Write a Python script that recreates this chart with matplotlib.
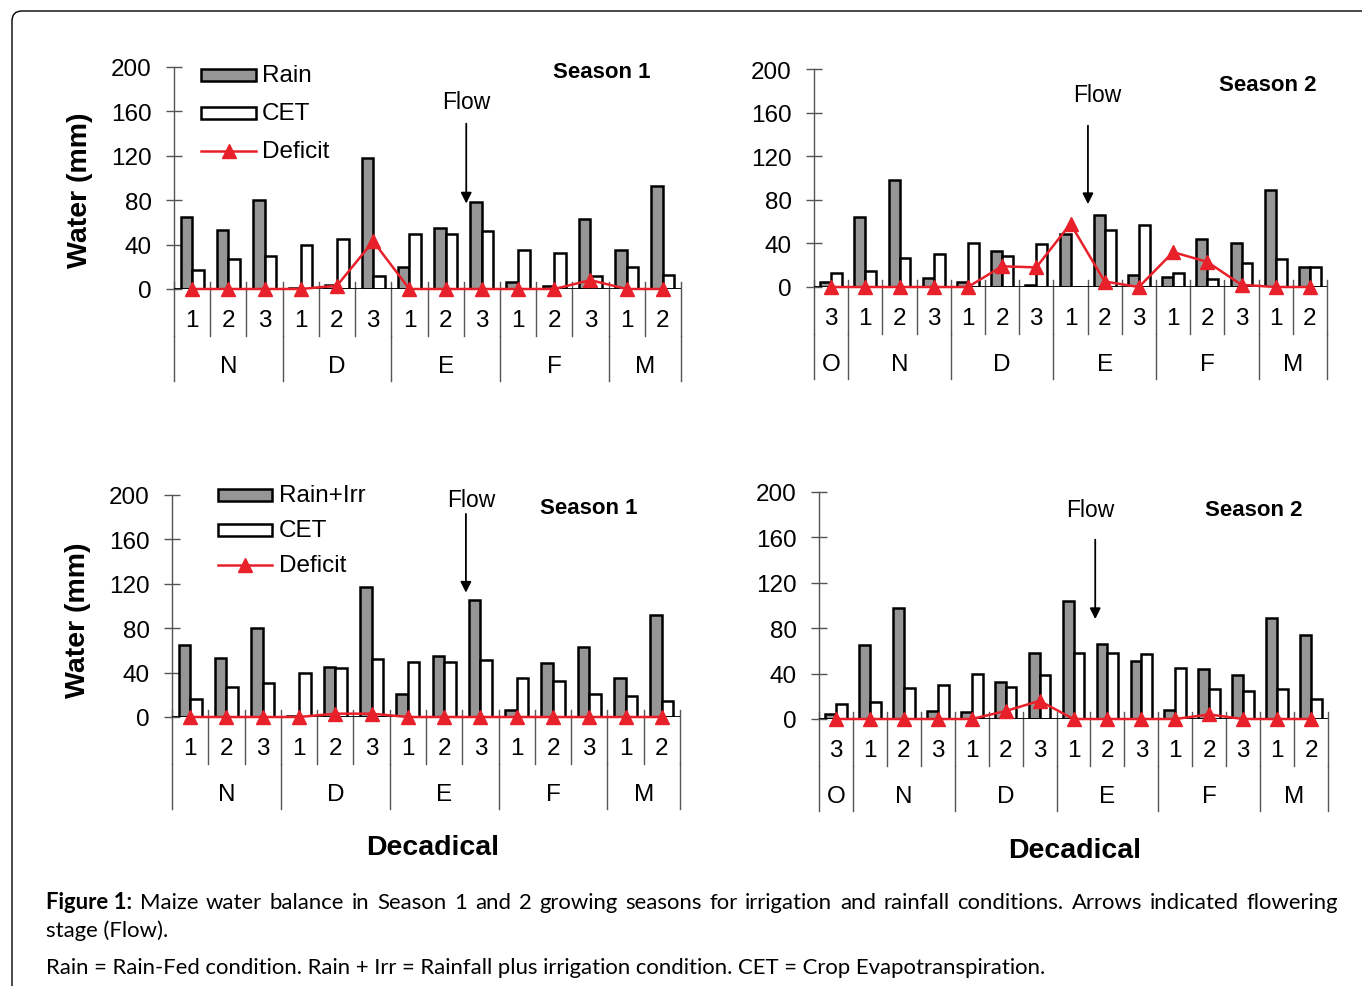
"""
Maize water balance figure: four decadal bar panels plus caption.
"""
import matplotlib
matplotlib.use("Agg")
import matplotlib.pyplot as plt
from matplotlib.patches import Rectangle, FancyBboxPatch
from matplotlib.lines import Line2D
from matplotlib.transforms import IdentityTransform

W, H = 1362, 987

GRAY = "#969696"
RED = "#e8202a"
AXIS = "#555555"
FONT = "Liberation Sans"

# ---- data (mm per decad) ----
s1_months = ["N", "D", "E", "F", "M"]
s1_spans = [3, 3, 3, 3, 2]
s1_decads = ["1", "2", "3"] * 4 + ["1", "2"]

s2_months = ["O", "N", "D", "E", "F", "M"]
s2_spans = [1, 3, 3, 3, 3, 2]
s2_decads = ["3"] + ["1", "2", "3"] * 4 + ["1", "2"]

s1_rain = [65, 53, 80, 1, 4, 118, 20, 55, 78, 6, 3, 63, 35, 93]
s1_rain_cet = [17, 27, 30, 40, 45, 12, 50, 50, 52, 35, 32, 12, 20, 13]
s1_rain_def = [0, 0, 0, 0, 3, 43, 0, 0, 0, 0, 0, 8, 0, 0]

s2_rain = [5, 64, 98, 8, 5, 33, 2, 49, 66, 11, 9, 44, 40, 89, 18]
s2_rain_cet = [13, 15, 27, 30, 40, 28, 39, 0, 52, 57, 13, 7, 22, 26, 18]
s2_rain_def = [0, 0, 0, 0, 0, 19, 18, 58, 5, 0, 32, 23, 2, 0, 0]

s1_irr = [65, 53, 80, 1, 45, 117, 21, 55, 105, 6, 49, 63, 35, 92]
s1_irr_cet = [16, 27, 31, 40, 44, 52, 50, 50, 51, 35, 32, 21, 19, 14]
s1_irr_def = [0, 0, 0, 0, 3, 3, 0, 0, 0, 0, 0, 0, 0, 0]

s2_irr = [4, 65, 98, 7, 6, 33, 58, 104, 66, 51, 8, 44, 39, 89, 74]
s2_irr_cet = [13, 15, 27, 30, 40, 28, 39, 58, 58, 57, 45, 26, 25, 26, 18]
s2_irr_def = [0, 0, 0, 0, 0, 7, 16, 0, 0, 0, 0, 4, 0, 0, 0]

fig = plt.figure(figsize=(W / 100, H / 100), dpi=100)
fig.patch.set_facecolor("white")


def fx(px):
    return px / W


def fy(py):
    return 1 - py / H


def panel(box, water, cet, deficit, decads, months, spans, season, season_xy,
          flow, ylabel=False):
    left, right, y0, y200 = box
    h = y0 - y200
    ax = fig.add_axes([fx(left), fy(y0), fx(right) - fx(left), (y0 - y200) / H])
    ax.patch.set_visible(False)
    n = len(water)
    ax.set_xlim(0, n)
    ax.set_ylim(0, 200)
    xs = [i + 0.5 for i in range(n)]
    bw = 0.32
    ax.bar([x - bw / 2 for x in xs], water, width=bw, color=GRAY,
           edgecolor="black", linewidth=1.8, zorder=2)
    ax.bar([x + bw / 2 for x in xs], cet, width=bw, color="white",
           edgecolor="black", linewidth=1.8, zorder=2)
    ax.plot(xs, deficit, color=RED, lw=1.8, marker="^", ms=10,
            mec=RED, mfc=RED, zorder=4, clip_on=False)

    for s in ["top", "right", "bottom"]:
        ax.spines[s].set_visible(False)
    ax.spines["left"].set_color(AXIS)
    ax.spines["left"].set_linewidth(1.0)
    ax.axhline(0, color="black", lw=1.3, zorder=3)
    ax.set_xticks([])
    ax.set_yticks(range(0, 201, 40))
    ax.tick_params(axis="y", direction="inout", length=12, width=1.0,
                   color=AXIS, labelsize=17.5, pad=10)
    for lab in ax.get_yticklabels():
        lab.set_fontfamily(FONT)

    # category axis below the plot
    tr = ax.get_xaxis_transform()
    off = lambda px: -px / h
    for i in range(n + 1):
        ax.plot([i, i], [7 / h, off(47)], color=AXIS, lw=1.0,
                transform=tr, clip_on=False)
    for x, d in zip(xs, decads):
        ax.text(x, off(31), d, transform=tr, ha="center", va="center",
                fontsize=17.5, family=FONT)
    pos = 0
    for m, sp in zip(months, spans):
        ax.plot([pos, pos], [off(47), off(92)], color=AXIS, lw=1.0,
                transform=tr, clip_on=False)
        ax.text(pos + sp / 2, off(77), m, transform=tr, ha="center",
                va="center", fontsize=17.5, family=FONT)
        pos += sp
    ax.plot([pos, pos], [off(47), off(92)], color=AXIS, lw=1.0,
            transform=tr, clip_on=False)

    ax.text(season_xy[0], season_xy[1], season, ha="center", va="center",
            fontsize=16, fontweight="bold", family=FONT)
    ax_x, tail, tip, tx, ty = flow
    ax.annotate("", xy=(ax_x, tip), xytext=(ax_x, tail),
                arrowprops=dict(arrowstyle="-|>", color="black", lw=1.3,
                                mutation_scale=16, shrinkA=0, shrinkB=0))
    ax.text(tx, ty, "Flow", ha="center", va="center", fontsize=16.5,
            family=FONT)
    if ylabel:
        fig.text(fx(ylabel[0]), fy(ylabel[1]), "Water (mm)", rotation=90,
                 ha="center", va="center", fontsize=20.5, fontweight="bold",
                 family=FONT)
    return ax


def legend(x0, x1, tx, ys, labels):
    for y, lab, kind in zip(ys, labels, ["gray", "white", "line"]):
        if kind == "line":
            fig.add_artist(Line2D([fx(x0), fx(x1)], [fy(y), fy(y)], color=RED,
                                  lw=1.8, transform=fig.transFigure))
            fig.add_artist(Line2D([fx((x0 + x1) / 2)], [fy(y)], color=RED,
                                  marker="^", ms=10, transform=fig.transFigure))
        else:
            fc = GRAY if kind == "gray" else "white"
            fig.add_artist(Rectangle((fx(x0), fy(y + 6)), fx(x1) - fx(x0),
                                     12 / H, facecolor=fc, edgecolor="black",
                                     lw=1.8, transform=fig.transFigure))
        fig.text(fx(tx), fy(y), lab, ha="left", va="center", fontsize=17.5,
                 family=FONT)


panel((174, 681, 290, 68), s1_rain, s1_rain_cet, s1_rain_def, s1_decads,
      s1_months, s1_spans, "Season 1", (11.8, 196),
      (8.07, 149, 77, 8.07, 169), ylabel=(80, 190))
panel((814, 1327, 288, 70), s2_rain, s2_rain_cet, s2_rain_def, s2_decads,
      s2_months, s2_spans, "Season 2", (13.27, 186),
      (8.01, 148, 76, 8.28, 177))
panel((172, 680, 718, 496), s1_irr, s1_irr_cet, s1_irr_def, s1_decads,
      s1_months, s1_spans, "Season 1", (11.48, 189),
      (8.1, 183, 112, 8.26, 195.5), ylabel=(78, 620))
panel((819, 1328, 720, 493), s2_irr, s2_irr_cet, s2_irr_def, s2_decads,
      s2_months, s2_spans, "Season 2", (12.8, 185),
      (8.14, 158, 88, 8.0, 185))

legend(201, 256, 262, [76, 114, 152], ["Rain", "CET", "Deficit"])
legend(218, 272, 279, [496, 531, 566], ["Rain+Irr", "CET", "Deficit"])

for x, y in [(433, 848), (1075, 851)]:
    fig.text(fx(x), fy(y), "Decadical", ha="center", va="center",
             fontsize=20.5, fontweight="bold", family=FONT)

# outer rounded frame
fig.add_artist(FancyBboxPatch((12, -40), 1400, 1015,
                              boxstyle="round,pad=0,rounding_size=10",
                              facecolor="none", edgecolor="black", lw=1.0,
                              transform=IdentityTransform()))

# caption, sized to fit the reference line widths
CAP = "Lato"
renderer = fig.canvas.get_renderer()
line3 = fig.text(fx(46), fy(968), "Rain = Rain-Fed condition. Rain + Irr = "
                 "Rainfall plus irrigation condition. CET = Crop "
                 "Evapotranspiration.", ha="left", va="center", fontsize=14,
                 family=CAP)
size3 = 14 * 994 / line3.get_window_extent(renderer).width

words = ("Maize water balance in Season 1 and 2 growing seasons for irrigation "
         "and rainfall conditions. Arrows indicated flowering").split()
items = [("Figure 1:", "bold")] + [(w, "normal") for w in words]
texts = []
for w, wt in items:
    t = fig.text(0, fy(903), w, ha="left", va="center", fontsize=14,
                 fontweight=wt, family=CAP)
    texts.append(t)
w14 = sum(t.get_window_extent(renderer).width for t in texts)
size1 = 14 * (1292 - (len(texts) - 1) * 6.5) / w14
size = (size1 + size3) / 2
line3.set_fontsize(size)
for t in texts:
    t.set_fontsize(size)
widths = [t.get_window_extent(renderer).width for t in texts]
gap = (1292 - sum(widths)) / (len(texts) - 1)
x = 46
for t, w in zip(texts, widths):
    t.set_x(fx(x))
    x += w + gap
fig.text(fx(46), fy(931), "stage (Flow).", ha="left", va="center",
         fontsize=size, family=CAP)

fig.savefig("out.png", dpi=100, facecolor="white")
